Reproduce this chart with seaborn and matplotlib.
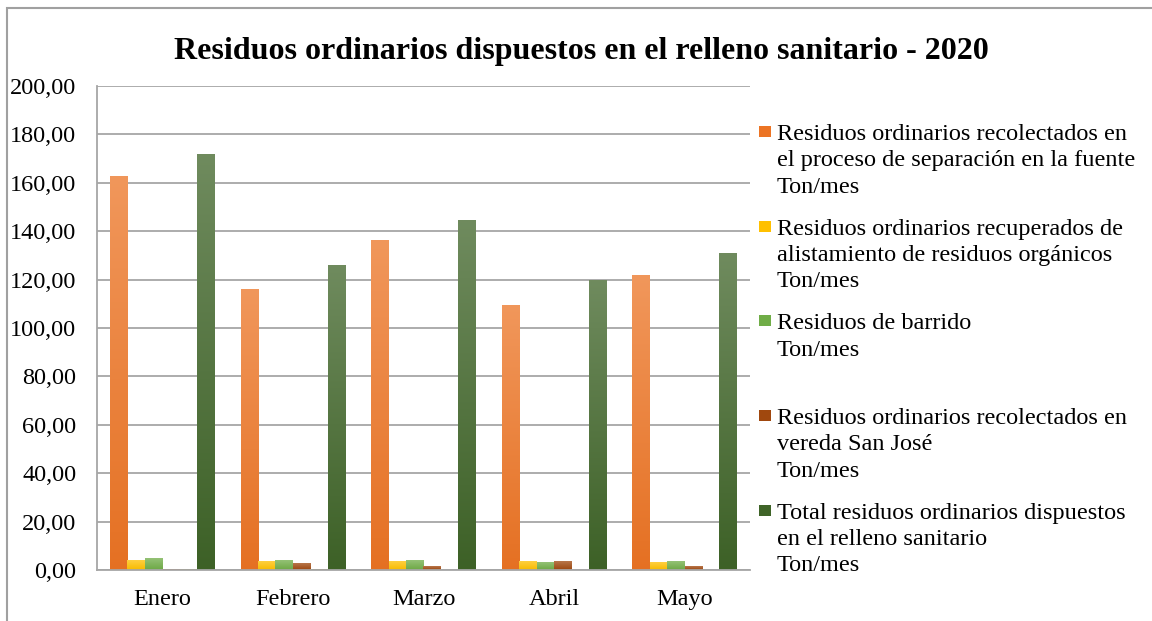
import numpy as np
import pandas as pd
import seaborn as sns
import matplotlib.pyplot as plt
from matplotlib.colors import to_rgb
from matplotlib.patches import Rectangle

# Datos (Ton/mes)
meses = ['Enero', 'Febrero', 'Marzo', 'Abril', 'Mayo']
separacion_fuente = [162.8, 115.8, 136.0, 109.2, 121.5]
alistamiento_organicos = [4.0, 3.7, 3.7, 3.7, 3.2]
barrido = [4.8, 4.1, 4.1, 3.2, 3.7]
vereda_san_jose = [0.3, 2.5, 1.4, 3.7, 1.6]
otros = [0.2, 0.2, 0.0, 0.0, 0.0]
total_relleno = [171.8, 125.7, 144.6, 119.5, 130.6]

series = [
    'Residuos ordinarios recolectados en\nel proceso de separación en la fuente\nTon/mes',
    'Residuos ordinarios recuperados de\nalistamiento de residuos orgánicos\nTon/mes',
    'Residuos de barrido\nTon/mes',
    'Residuos ordinarios recolectados en\nvereda San José\nTon/mes',
    'otros',
    'Total residuos ordinarios dispuestos\nen el relleno sanitario\nTon/mes',
]
colores = ['#EC7424', '#FFC000', '#70AD47', '#A0480E', '#8C7A2E', '#3F6428']
yticks = [0, 20, 40, 60, 80, 100, 120, 140, 160, 180, 200]
ytick_labels = ['0,00', '20,00', '40,00', '60,00', '80,00', '100,00',
                '120,00', '140,00', '160,00', '180,00', '200,00']

valores = [separacion_fuente, alistamiento_organicos, barrido,
           vereda_san_jose, otros, total_relleno]
df = pd.DataFrame({
    'mes': meses * len(series),
    'serie': np.repeat(series, len(meses)),
    'valor': np.concatenate(valores),
})

sns.set_style('white')
plt.rcParams['font.family'] = ['Liberation Serif', 'DejaVu Serif']
plt.rcParams['text.color'] = 'black'
plt.rcParams['xtick.color'] = 'black'
plt.rcParams['ytick.color'] = 'black'

fig = plt.figure(figsize=(11.52, 6.21), dpi=100)
ax = fig.add_axes([0.0842, 0.0821, 0.5668, 0.7794])

sns.barplot(data=df, x='mes', y='valor', hue='serie', hue_order=series,
            palette=colores, saturation=1, width=0.8, gap=0, linewidth=0,
            ax=ax, legend=False)

# degradado tipo Excel en cada barra
for p in list(ax.patches):
    h = p.get_height()
    if h <= 0:
        continue
    c = np.array(to_rgb(p.get_facecolor()))
    top = c + (1 - c) * 0.25
    bot = c * 0.97
    t = np.linspace(0, 1, 64)[:, None, None]
    img = bot * (1 - t) + top * t
    ax.imshow(img, extent=[p.get_x(), p.get_x() + p.get_width(), p.get_y(), p.get_y() + h],
              origin='lower', aspect='auto', zorder=p.get_zorder() + 0.1, interpolation='bilinear')

ax.set_xlim(-0.5, 4.5)
ax.set_ylim(0, 200)
ax.set_yticks(yticks)
ax.set_yticklabels(ytick_labels)
ax.set_xlabel('')
ax.set_ylabel('')
ax.grid(axis='y', color='#a6a6a6', linewidth=1.3)
ax.set_axisbelow(True)
ax.tick_params(axis='y', length=0, pad=15, labelsize=17.5, labelcolor='black')
ax.tick_params(axis='x', length=0, pad=14, labelsize=17.5, labelcolor='black')
for s in ['top', 'right']:
    ax.spines[s].set_visible(False)
for s in ['left', 'bottom']:
    ax.spines[s].set_color('#a6a6a6')
    ax.spines[s].set_linewidth(1.3)

# titulo
fig.text(0.505, 0.917, 'Residuos ordinarios dispuestos en el relleno sanitario - 2020',
         ha='center', va='center', fontsize=23, fontweight='bold', color='black')

# leyenda a la derecha
W, H = 1152, 621
for i, (nombre, col) in enumerate(zip(series, colores)):
    if nombre == 'otros':
        continue
    k = i if i < 4 else i - 1
    ytop = 123 + k * 94.7
    fig.add_artist(Rectangle((759 / W, 1 - (ytop + 14) / H), 12 / W, 11 / H,
                             transform=fig.transFigure, facecolor=col, edgecolor='none'))
    fig.text(777 / W, 1 - (ytop + 1) / H, nombre, ha='left', va='top',
             fontsize=17.5, linespacing=1.33, color='black')

# marco del grafico (solo arriba e izquierda visibles)
fig.add_artist(Rectangle((6.5 / W, -0.05), 1.2, 1.05 - 7.5 / H, transform=fig.transFigure,
                         facecolor='none', edgecolor='#a0a0a0', linewidth=1.5))

plt.savefig('out.png', dpi=100)
